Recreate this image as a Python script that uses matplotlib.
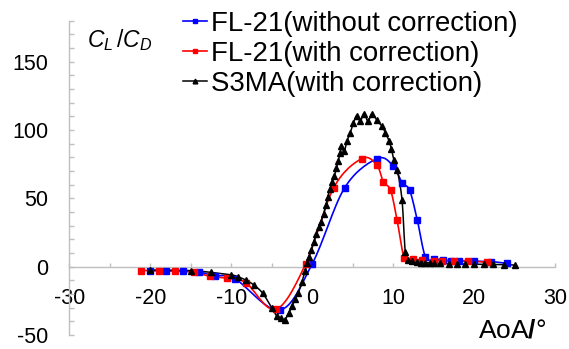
import numpy as np
import matplotlib
matplotlib.use("Agg")
import matplotlib.pyplot as plt
from matplotlib.ticker import MultipleLocator

plt.rcParams['font.family'] = ['Liberation Sans', 'DejaVu Sans']
plt.rcParams['mathtext.fontset'] = 'custom'
plt.rcParams['mathtext.it'] = 'Liberation Sans:italic'
plt.rcParams['mathtext.rm'] = 'Liberation Sans'
plt.rcParams['mathtext.bf'] = 'Liberation Sans:bold'

# ---- data ----
fl21_raw_aoa = [-20, -18, -16, -14, -12, -9.5, -4.0, 0.0, 4.0, 8.0, 10.0, 11.1, 12.05,
                13.0, 14.0, 15.1, 16.2, 17.1, 18.1, 20.0, 22.1, 24.1]
fl21_raw_ld = [-2.8, -2.9, -3.0, -4.0, -6.5, -9.0, -31.8, 2.0, 57.6, 79.0, 73.8, 61.5, 55.8,
               33.8, 7.0, 5.6, 4.9, 4.4, 4.2, 3.9, 3.7, 2.4]

fl21_cor_aoa = [-21.2, -18.9, -16.9, -14.6, -12.6, -10.5, -8.2, -4.5, -0.8, 2.65, 6.1, 7.95,
                8.8, 9.7, 10.5, 11.4, 12.5, 13.6, 15.0, 16.0, 17.5, 19.2, 21.6]
fl21_cor_ld = [-2.8, -2.9, -3.0, -4.2, -7.0, -8.5, -11.7, -31.3, 2.0, 57.6, 79.0, 74.7,
               62.0, 55.8, 33.8, 6.1, 5.4, 4.9, 4.5, 4.4, 4.0, 4.4, 3.2]

s3ma_aoa = [-20, -15, -12.5, -10, -9.2, -8.2, -7.2, -6.1, -5.0, -4.4, -3.9, -3.4, -2.9,
            -2.5, -2.1, -1.7, -1.25, -0.9, -0.6, -0.4, -0.12, 0.2, 0.53, 0.82, 1.1, 1.43,
            1.7, 1.93, 2.2, 2.47, 2.75, 3.0, 3.2, 3.45, 3.6, 3.95, 4.3, 4.7, 5.1, 5.5,
            5.95, 6.4, 6.9, 7.4, 8.0, 8.6, 9.05, 9.5, 9.8, 10.1, 10.5, 11.1, 11.5, 11.9,
            12.3, 12.9, 13.4, 13.9, 14.5, 15.0, 15.8, 16.9, 17.9, 18.9, 20.0, 21.2, 22.4,
            23.7, 25.0]
s3ma_ld = [-2.5, -2.8, -4.2, -6.0, -7.3, -9.8, -13.4, -19.5, -30.0, -36.0, -37.5, -38.8,
           -34.0, -29.0, -24.0, -19.0, -11.0, -3.5, 2.8, 7.3, 12.2, 18.4, 24.0, 28.9, 33.0,
           38.7, 45.0, 51.0, 56.8, 61.7, 66.6, 72.0, 77.0, 83.0, 88.0, 84.5, 91.8, 98.0,
           105.0, 110.6, 106.5, 112.0, 106.5, 112.0, 107.0, 103.0, 98.0, 92.0, 86.0, 78.0,
           71.0, 49.0, 11.0, 5.0, 4.0, 3.5, 3.0, 3.0, 2.8, 2.6, 2.4, 2.2, 2.0, 2.0, 1.8,
           1.7, 1.6, 1.5, 1.2]

labels = ["FL-21(without correction)", "FL-21(with correction)", "S3MA(with correction)"]
x_ticks = [-30, -20, -10, 0, 10, 20, 30]
y_ticks = [-50, 0, 50, 100, 150]


def smooth(x, y, n=16):
    """Catmull-Rom (Excel-like smoothed line) through the given points."""
    p = np.column_stack([x, y]).astype(float)
    p = np.vstack([2 * p[0] - p[1], p, 2 * p[-1] - p[-2]])
    t = np.linspace(0, 1, n, endpoint=False)[:, None]
    out = []
    for i in range(1, len(p) - 2):
        p0, p1, p2, p3 = p[i - 1], p[i], p[i + 1], p[i + 2]
        seg = 0.5 * (2 * p1 + (-p0 + p2) * t + (2 * p0 - 5 * p1 + 4 * p2 - p3) * t ** 2
                     + (-p0 + 3 * p1 - 3 * p2 + p3) * t ** 3)
        out.append(seg)
    out.append(p[-2][None, :])
    out = np.vstack(out)
    return out[:, 0], out[:, 1]


W, H = 569, 349
fig = plt.figure(figsize=(W / 100, H / 100), dpi=100)
ax = fig.add_axes([69.3 / W, 1 - 335 / H, (555 - 69.3) / W, (335 - 20.7) / H])
ax.set_xlim(-30, 30)
ax.set_ylim(-50, 180)

series = [
    (fl21_raw_aoa, fl21_raw_ld, '#0000FF', 's', 4.8, 1.2),
    (fl21_cor_aoa, fl21_cor_ld, '#FF0000', 's', 4.8, 1.2),
    (s3ma_aoa, s3ma_ld, '#000000', '^', 4.8, 1.1),
]
handles = []
for (xs, ys, c, m, ms, lw), lab in zip(series, labels):
    sx, sy = smooth(xs, ys)
    ax.plot(sx, sy, color=c, lw=lw, zorder=3, clip_on=False)
    ax.plot(xs, ys, ls='none', marker=m, ms=ms, color=c, mec=c, zorder=4, clip_on=False)
    h, = ax.plot([], [], color=c, lw=lw, marker=m, ms=3.4, mec=c)
    handles.append(h)

gray = '#BFBFBF'
for s in ['top', 'right']:
    ax.spines[s].set_visible(False)
ax.spines['left'].set_color(gray)
ax.spines['bottom'].set_color(gray)
ax.spines['left'].set_linewidth(1.0)
ax.spines['bottom'].set_linewidth(1.0)
ax.spines['bottom'].set_position(('data', 0))

ax.set_xticks(x_ticks)
ax.set_xticklabels([str(v) for v in x_ticks])
ax.xaxis.set_minor_locator(MultipleLocator(5))
ax.set_yticks(y_ticks)
ax.set_yticklabels([str(v) for v in y_ticks])
ax.yaxis.set_minor_locator(MultipleLocator(10))

ax.tick_params(axis='x', which='both', direction='in', length=3.2, color=gray, width=1.0)
ax.tick_params(axis='x', which='major', labelsize=15.5, pad=15)
ax.tick_params(axis='y', which='both', direction='in', length=3.6, color=gray, width=1.0)
ax.tick_params(axis='y', which='major', labelsize=15.5, pad=15)

fig.text(87 / W, 1 - 46.7 / H, r'$C_L\,/C_D$', fontsize=16.5, ha='left', va='baseline')
fig.text(546 / W, 1 - 337.5 / H, r'AoA$\mathbf{/}$°', fontsize=19, ha='right', va='baseline')

fig.legend(handles, labels, loc='upper left', bbox_to_anchor=(183 / W, 1 - 11 / H),
           bbox_transform=fig.transFigure, frameon=False, fontsize=19.9,
           borderpad=0, borderaxespad=0, handlelength=0.88, handletextpad=0.15,
           labelspacing=0.14)

fig.savefig('out.png', dpi=100)
